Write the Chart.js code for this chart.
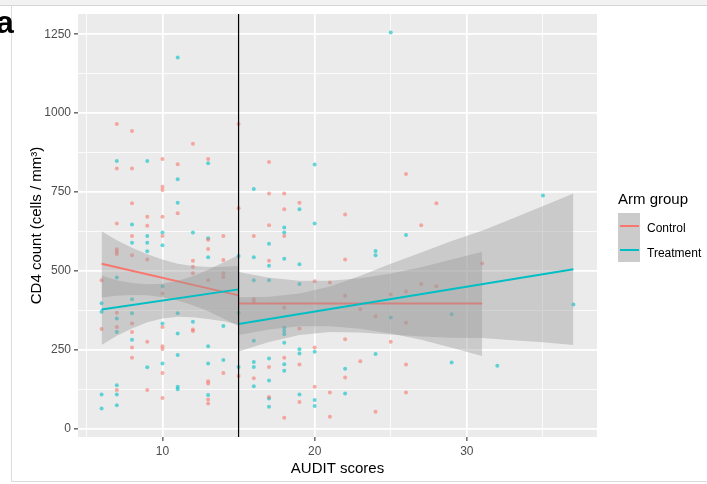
<!DOCTYPE html>
<html>
<head>
<meta charset="utf-8">
<script src="https://cdn.jsdelivr.net/npm/chart.js@4.4.1/dist/chart.umd.min.js"></script>
<style>
  html, body { margin: 0; padding: 0; background: #fff; }
  #wrap { position: relative; width: 707px; height: 484px; overflow: hidden; font-family: "Liberation Sans", Arial, sans-serif; }
  #topStrip { position: absolute; left: 0; top: 0; width: 707px; height: 5px; background: #f2f2f2; border-bottom: 1px solid #d6d6d6; }
  #leftRule { position: absolute; left: 11px; top: 6px; width: 1px; height: 476px; background: #dcdcdc; }
  #bottomRule { position: absolute; left: 11px; top: 481px; width: 696px; height: 1px; background: #dcdcdc; }
  #panelLabel { position: absolute; left: -4px; top: 6px; font-size: 32px; line-height: 32px; font-weight: bold; color: #000; }
  canvas { position: absolute; left: 0; top: 0; }
  .legTitle { position: absolute; left: 618px; top: 191px; font-size: 15px; line-height: 15px; color: #000; white-space: nowrap; }
  .legKey { position: absolute; left: 618px; top: 213px; width: 22px; height: 49px; background: #cbcbcb; }
  .legLine { position: absolute; left: 620px; width: 19px; height: 2px; }
  .legText { position: absolute; left: 647px; font-size: 12px; line-height: 12px; color: #000; white-space: nowrap; }
</style>
</head>
<body>
<div id="wrap">
  <div id="topStrip"></div>
  <div id="leftRule"></div>
  <div id="bottomRule"></div>
  <canvas id="cd4Chart" width="707" height="484"></canvas>
  <div id="panelLabel">a</div>
  <div class="legTitle">Arm group</div>
  <div class="legKey"></div>
  <div class="legLine" style="top:225px;background:#F8766D"></div>
  <div class="legLine" style="top:249px;background:#00BFC4"></div>
  <div class="legText" style="top:222px">Control</div>
  <div class="legText" style="top:247px">Treatment</div>
</div>
<script>
// groups
const groups = ["Control", "Treatment"];

// Control arm: AUDIT score / CD4 count
const controlX = [
  6, 6,
  7, 7, 7, 7, 7, 7, 7, 7, 7,
  8, 8, 8, 8, 8, 8, 8, 8, 8,
  9, 9, 9, 9, 9,
  10, 10, 10, 10, 10, 10, 10, 10, 10, 10, 10,
  11, 11,
  12, 12, 12, 12, 12, 12,
  13, 13, 13, 13, 13, 13, 13, 13,
  14, 14, 14, 14, 14,
  15, 15, 15,
  16, 16, 16, 16,
  17, 17, 17, 17, 17, 17,
  18, 18, 18, 18, 18, 18,
  19, 19, 19, 19,
  20, 20, 20,
  21, 21, 21,
  22, 22, 22, 22, 22,
  23, 23,
  24, 24,
  25, 25,
  26, 26, 26, 26, 26,
  27, 27,
  28, 28,
  31
];
const controlY = [
  470, 315,
  965, 824, 650, 568, 560, 553, 367, 322, 122,
  943, 824, 714, 610, 549, 333, 306, 257, 224,
  671, 643, 536, 275, 122,
  854, 766, 756, 671, 610, 428, 322, 261, 252, 176, 97,
  838, 682,
  903, 532, 513, 492, 314, 309,
  854, 598, 569, 470, 150, 143, 92, 79,
  610, 534, 492, 480, 176,
  965, 698, 166,
  610, 410, 400, 159,
  845, 745, 644, 532, 195, 100,
  745, 695, 610, 383, 224, 34,
  716, 317, 203, 84,
  467, 257, 132,
  463, 114, 37,
  678, 536, 421, 283, 162,
  378, 213,
  356, 53,
  425, 275,
  807, 434, 335, 203, 114,
  644, 458,
  714, 451,
  523
];

// Treatment arm
const treatX = [
  6, 6, 6, 6,
  7, 7, 7, 7, 7, 7, 7,
  8, 8, 8, 8, 8,
  9, 9, 9, 9, 9,
  10, 10, 10, 10, 10,
  11, 11, 11, 11, 11, 11, 11, 11,
  12, 12,
  13, 13, 13, 13, 13, 13,
  14, 14,
  15, 15, 15,
  16, 16, 16, 16, 16, 16, 16,
  17, 17, 17, 17, 17, 17, 17,
  18, 18, 18, 18, 18, 18, 18, 18, 18,
  19, 19, 19, 19, 19, 19,
  20, 20, 20, 20, 20,
  22, 22,
  24, 24, 24,
  25, 25,
  26,
  29, 29,
  32,
  35,
  37
];
const treatY = [
  397, 370, 108, 63,
  848, 479, 349, 306, 137, 108, 74,
  647, 589, 410, 365, 281,
  848, 610, 589, 562, 194,
  621, 581, 451, 333, 206,
  1176, 790, 716, 365, 301, 233, 132, 124,
  621, 338,
  841, 603, 543, 261, 206, 106,
  325, 217,
  547, 367, 195,
  759, 543, 470, 278, 211, 195, 134,
  586, 516, 470, 222, 152, 95, 69,
  637, 621, 538, 319, 309, 299, 272, 204, 183,
  695, 521, 458, 251, 238, 108,
  837, 650, 243, 90, 71,
  189, 111,
  563, 549, 236,
  1255, 352,
  613,
  362, 209,
  199,
  739,
  393
];

// AUDIT cut-off
const cutoff = 15;

// fitted lines, below and above the cut-off (x, y at both ends)
const ctrlLeftX = [6, 15];
const ctrlLeftY = [522, 422];
const trtLeftX = [6, 15];
const trtLeftY = [377, 441];
const ctrlRightX = [15, 31];
const ctrlRightY = [396, 396];
const trtRightX = [15, 37];
const trtRightY = [331, 505];

// confidence bands
const ctrlLeftBandX = [6, 7, 8, 9, 10, 11, 12, 13, 14, 15];
const ctrlLeftBandHi = [625, 597, 573, 552, 536, 522, 515, 512, 513, 515];
const ctrlLeftBandLo = [415, 421, 423, 422, 416, 406, 391, 372, 349, 325];
const trtLeftBandX = [6, 7, 8, 9, 10, 11, 12, 13, 14, 15];
const trtLeftBandHi = [485, 470, 461, 457, 459, 468, 483, 503, 526, 550];
const trtLeftBandLo = [265, 294, 317, 337, 349, 354, 353, 347, 340, 330];
const ctrlRightBandX = [15, 17, 19, 21, 23, 25, 27, 29, 31];
const ctrlRightBandHi = [496, 478, 468, 468, 476, 491, 511, 536, 560];
const ctrlRightBandLo = [296, 314, 324, 324, 316, 301, 281, 256, 230];
const trtRightBandX = [15, 17, 19, 21, 23, 25, 27, 29, 31, 33, 35, 37];
const trtRightBandHi = [416, 418, 428, 450, 484, 522, 558, 594, 627, 666, 705, 745];
const trtRightBandLo = [244, 274, 296, 306, 304, 298, 292, 288, 287, 280, 273, 265];

// axis ticks
const xMajor = [10, 20, 30];
const xMinor = [5, 15, 25, 35];
const yMajor = [0, 250, 500, 750, 1000, 1250];
const yMinor = [125, 375, 625, 875, 1125];

const RED = "#F8766D";
const TEAL = "#00BFC4";
const BAND = "rgba(153,153,153,0.4)";
const FONT = "'Liberation Sans', Arial, sans-serif";

const zip = (xs, ys) => xs.map((x, i) => ({ x: x, y: ys[i] }));

const pointSet = (label, xs, ys, color) => ({
  type: "scatter",
  label: label,
  data: zip(xs, ys),
  backgroundColor: color,
  borderWidth: 0,
  pointRadius: 2,
  order: 100,
});

const bandSet = (xs, hi, lo, order) => [
  {
    type: "line",
    data: zip(xs, hi),
    borderWidth: 0,
    pointRadius: 0,
    backgroundColor: BAND,
    fill: "+1",
    order: order,
  },
  {
    type: "line",
    data: zip(xs, lo),
    borderWidth: 0,
    pointRadius: 0,
    fill: false,
    order: order,
  },
];

const lineSet = (xs, ys, color, order) => ({
  type: "line",
  data: zip(xs, ys),
  borderColor: color,
  borderWidth: 2,
  pointRadius: 0,
  fill: false,
  order: order,
});

const datasets = [
  pointSet(groups[0], controlX, controlY, "rgba(248,118,109,0.6)"),
  pointSet(groups[1], treatX, treatY, "rgba(0,191,196,0.6)"),
  ...bandSet(ctrlLeftBandX, ctrlLeftBandHi, ctrlLeftBandLo, 90),
  lineSet(ctrlLeftX, ctrlLeftY, RED, 89),
  ...bandSet(trtLeftBandX, trtLeftBandHi, trtLeftBandLo, 88),
  lineSet(trtLeftX, trtLeftY, TEAL, 87),
  ...bandSet(ctrlRightBandX, ctrlRightBandHi, ctrlRightBandLo, 86),
  lineSet(ctrlRightX, ctrlRightY, RED, 85),
  ...bandSet(trtRightBandX, trtRightBandHi, trtRightBandLo, 84),
  lineSet(trtRightX, trtRightY, TEAL, 83),
];

const panelBg = {
  id: "panelBg",
  beforeDraw(chart) {
    const { ctx, chartArea: a } = chart;
    ctx.save();
    ctx.fillStyle = "#EBEBEB";
    ctx.fillRect(a.left, a.top, a.right - a.left, a.bottom - a.top);
    ctx.restore();
  },
};

const cutoffLine = {
  id: "cutoffLine",
  afterDatasetsDraw(chart) {
    const { ctx, chartArea: a, scales } = chart;
    const px = scales.x.getPixelForValue(cutoff);
    ctx.save();
    ctx.strokeStyle = "#000";
    ctx.lineWidth = 1.2;
    ctx.beginPath();
    ctx.moveTo(px, a.top);
    ctx.lineTo(px, a.bottom);
    ctx.stroke();
    ctx.restore();
  },
};

const isMajor = (list, v) => list.indexOf(v) !== -1;

new Chart(document.getElementById("cd4Chart"), {
  type: "scatter",
  data: { datasets: datasets },
  options: {
    responsive: false,
    animation: false,
    events: [],
    layout: { padding: { left: 0, top: 14, right: 110, bottom: 0 } },
    plugins: {
      legend: { display: false },
      tooltip: { enabled: false },
    },
    scales: {
      x: {
        type: "linear",
        min: 4.45,
        max: 38.55,
        afterBuildTicks: (s) => {
          s.ticks = xMinor.concat(xMajor).sort((a, b) => a - b).map((v) => ({ value: v }));
        },
        afterFit: (s) => {
          s.height = 47;
        },
        border: { display: false },
        grid: {
          color: "#ffffff",
          lineWidth: (c) => (isMajor(xMajor, c.tick.value) ? 1.7 : 0.8),
          tickColor: (c) => (isMajor(xMajor, c.tick.value) ? "#333333" : "rgba(0,0,0,0)"),
          tickLength: 4,
          tickWidth: 1.1,
        },
        ticks: {
          autoSkip: false,
          maxRotation: 0,
          padding: 3,
          color: "#4D4D4D",
          font: { family: FONT, size: 12 },
          callback: (v) => (isMajor(xMajor, v) ? String(v) : ""),
        },
        title: {
          display: true,
          text: "AUDIT scores",
          color: "#000",
          font: { family: FONT, size: 15 },
          padding: { top: 0, bottom: 6 },
        },
      },
      y: {
        type: "linear",
        min: -27,
        max: 1314,
        afterBuildTicks: (s) => {
          s.ticks = yMinor.concat(yMajor).sort((a, b) => a - b).map((v) => ({ value: v }));
        },
        afterFit: (s) => {
          s.width = 78;
        },
        border: { display: false },
        grid: {
          color: "#ffffff",
          lineWidth: (c) => (isMajor(yMajor, c.tick.value) ? 1.7 : 0.8),
          tickColor: (c) => (isMajor(yMajor, c.tick.value) ? "#333333" : "rgba(0,0,0,0)"),
          tickLength: 4,
          tickWidth: 1.1,
        },
        ticks: {
          autoSkip: false,
          padding: 3,
          color: "#4D4D4D",
          font: { family: FONT, size: 12 },
          callback: (v) => (isMajor(yMajor, v) ? String(v) : ""),
        },
        title: {
          display: true,
          text: "CD4 count (cells / mm\u00B3)",
          color: "#000",
          font: { family: FONT, size: 15 },
          padding: { top: 28, bottom: 0 },
        },
      },
    },
  },
  plugins: [panelBg, cutoffLine],
});
</script>
</body>
</html>
